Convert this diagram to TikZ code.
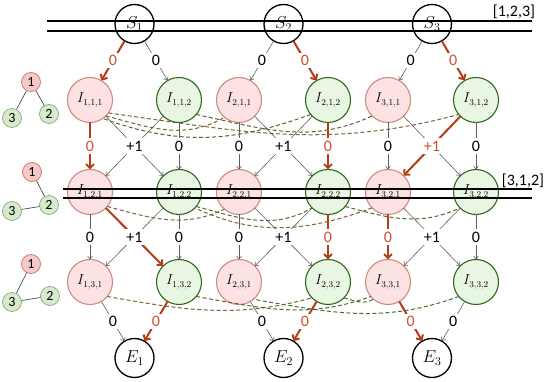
\documentclass[tikz,border=0pt]{standalone}
\usepackage{fontspec}
\newfontfamily\lblfont{Carlito}
\usetikzlibrary{arrows.meta,positioning,calc}
\definecolor{pinkfill}{RGB}{252,226,226}
\definecolor{pinkdraw}{RGB}{205,140,125}
\definecolor{greenfill}{RGB}{234,246,228}
\definecolor{greendraw}{RGB}{45,105,25}
\definecolor{pathred}{RGB}{180,60,25}
\definecolor{pathtext}{RGB}{205,80,50}
\definecolor{edgegray}{RGB}{95,95,95}
\definecolor{dashbrown}{RGB}{125,100,55}
\definecolor{dashgreen}{RGB}{80,105,45}
\definecolor{treepink}{RGB}{246,200,200}
\definecolor{treepinkdraw}{RGB}{190,120,110}
\definecolor{treegreen}{RGB}{214,234,204}
\definecolor{treegreendraw}{RGB}{140,165,130}

\begin{document}
\begin{tikzpicture}[x=1pt,y=1pt,
    endnode/.style={circle,draw=black,line width=1.3pt,minimum size=39pt,
        inner sep=0pt,outer sep=0pt,font=\fontsize{18}{18}\selectfont},
    inode/.style={circle,line width=1.1pt,minimum size=45pt,inner sep=0pt,
        outer sep=0pt,font=\fontsize{13.5}{13.5}\selectfont},
    inodeA/.style={inode,draw=pinkdraw,fill=pinkfill},
    inodeB/.style={inode,draw=greendraw,fill=greenfill},
    tnode/.style={circle,line width=0.7pt,minimum size=19pt,inner sep=0pt,
        font=\lblfont\fontsize{14}{14}\selectfont},
    tnodeA/.style={tnode,draw=treepinkdraw,fill=treepink},
    tnodeB/.style={tnode,draw=treegreendraw,fill=treegreen},
    treeedge/.style={draw=black!80,line width=0.6pt},
    grayarrow/.style={-{Straight Barb[length=3pt,width=5pt]},draw=edgegray,line width=0.6pt},
    redarrow/.style={-{Straight Barb[length=4pt,width=8pt]},draw=pathred,line width=2pt},
    edgelabel/.style={fill=white,inner sep=2.5pt,font=\lblfont\fontsize{16}{16}\selectfont},
    redlabel/.style={edgelabel,text=pathtext},
    dashA/.style={dashed,dash pattern=on 4pt off 2.5pt,draw=dashbrown,line width=1pt},
    dashB/.style={dashed,dash pattern=on 4pt off 2.5pt,draw=dashgreen,line width=1pt},
    barline/.style={draw=black,line width=1.6pt},
    orderlabel/.style={font=\lblfont\fontsize{16}{16}\selectfont,inner sep=0pt}
]
\useasboundingbox (0,0) rectangle (550,-382);
% intermediate nodes, three rows
\node[inodeA] (I111) at (90,-100) {$I_{1,1,1}$};
\node[inodeB,right=44pt of I111] (I112) {$I_{1,1,2}$};
\node[inodeA,right=15pt of I112] (I211) {$I_{2,1,1}$};
\node[inodeB,right=44pt of I211] (I212) {$I_{2,1,2}$};
\node[inodeA,right=15pt of I212] (I311) {$I_{3,1,1}$};
\node[inodeB,right=43pt of I311] (I312) {$I_{3,1,2}$};
\node[inodeA,below=47pt of I111] (I121) {$I_{1,2,1}$};
\node[inodeB,below=47pt of I112] (I122) {$I_{1,2,2}$};
\node[inodeA,below=47pt of I211] (I221) {$I_{2,2,1}$};
\node[inodeB,below=47pt of I212] (I222) {$I_{2,2,2}$};
\node[inodeA,below=47pt of I311] (I321) {$I_{3,2,1}$};
\node[inodeB,below=47pt of I312] (I322) {$I_{3,2,2}$};
\node[inodeA,below=45pt of I121] (I131) {$I_{1,3,1}$};
\node[inodeB,below=45pt of I122] (I132) {$I_{1,3,2}$};
\node[inodeA,below=45pt of I221] (I231) {$I_{2,3,1}$};
\node[inodeB,below=45pt of I222] (I232) {$I_{2,3,2}$};
\node[inodeA,below=45pt of I321] (I331) {$I_{3,3,1}$};
\node[inodeB,below=45pt of I322] (I332) {$I_{3,3,2}$};
% start and end nodes
\node[endnode] (S1) at ($(I111)!.5!(I112)+(0,76)$) {$S_1$};
\node[endnode] (S2) at ($(I211)!.5!(I212)+(0,76)$) {$S_2$};
\node[endnode] (S3) at ($(I311)!.5!(I312)+(0,76)$) {$S_3$};
\node[endnode] (E1) at ($(I131)!.5!(I132)+(0,-76)$) {$E_1$};
\node[endnode] (E2) at ($(I231)!.5!(I232)+(0,-76)$) {$E_2$};
\node[endnode] (E3) at ($(I331)!.5!(I332)+(0,-76)$) {$E_3$};
% small trees on the left
\node[tnodeA] (t11) at (31,-82) {1};
\node[tnodeB] (t13) at (12,-118) {3};
\node[tnodeB] (t12) at (49,-114) {2};
\draw[treeedge] (t11)--(t13);
\draw[treeedge] (t11)--(t12);
\node[tnodeA] (t21) at (32,-172) {1};
\node[tnodeB] (t22) at (49,-205) {2};
\node[tnodeB] (t23) at (12,-211) {3};
\draw[treeedge] (t21)--(t22);
\draw[treeedge] (t22)--(t23);
\node[tnodeA] (t31) at (31,-264) {1};
\node[tnodeB] (t32) at (50,-296) {2};
\node[tnodeB] (t33) at (12,-302) {3};
\draw[treeedge] (t31)--(t33);
\draw[treeedge] (t33)--(t32);
% dashed links within each row
\draw[dashA] (I111.-45) to[out=-15,in=-150] (I211.-130);
\draw[dashA] (I111.-35) to[out=-8,in=-165] (I312.-140);
\draw[dashB] (I112.-40) to[out=-12,in=-155] (I311.-135);
\draw[dashB] (I212.-140) to[out=-160,in=-20] (I111.-55);
\draw[dashA] (I121.-40) to[out=-15,in=-155] (I221.-130);
\draw[dashB] (I122.-40) to[out=-15,in=-150] (I222.-135);
\draw[dashB] (I222.-40) to[out=-15,in=-155] (I322.-135);
\draw[dashA] (I321.-135) to[out=-160,in=-25] (I122.-45);
\draw[dashA] (I131.-40) to[out=-10,in=-165] (I232.-135);
\draw[dashB] (I132.-40) to[out=-10,in=-160] (I331.-140);
\draw[dashB] (I232.-45) to[out=-15,in=-150] (I331.-130);
\draw[dashB] (I332.-140) to[out=-160,in=-10] (I231.-50);
% double bars with orders
\coordinate (bar1L) at (47,-21);
\coordinate (bar1R) at (532,-21);
\draw[barline] (bar1L)--(bar1R);
\draw[barline] ($(bar1L)+(0,-10)$)--($(bar1R)+(0,-10)$);
\node[orderlabel] (order1) at (514,-12) {[1,2,3]};
\coordinate (bar2L) at (63,-189);
\coordinate (bar2R) at (532,-189);
\draw[barline] (bar2L)--(bar2R);
\draw[barline] ($(bar2L)+(0,-9)$)--($(bar2R)+(0,-9)$);
\node[orderlabel] (order2) at (523,-181) {[3,1,2]};
% start arcs
\draw[redarrow] (S1)--node[redlabel] {0}(I111);
\draw[grayarrow] (S1)--node[edgelabel] {0}(I112);
\draw[grayarrow] (S2)--node[edgelabel] {0}(I211);
\draw[redarrow] (S2)--node[redlabel] {0}(I212);
\draw[grayarrow] (S3)--node[edgelabel] {0}(I311);
\draw[redarrow] (S3)--node[redlabel] {0}(I312);
% row 1 to row 2
\draw[redarrow] (I111)--node[redlabel] {0}(I121);
\draw[grayarrow] (I111)--node[edgelabel] {+1}(I122);
\draw[grayarrow] (I112)--node[edgelabel] {+1}(I121);
\draw[grayarrow] (I112)--node[edgelabel] {0}(I122);
\draw[grayarrow] (I211)--node[edgelabel] {0}(I221);
\draw[grayarrow] (I211)--node[edgelabel] {+1}(I222);
\draw[grayarrow] (I212)--node[edgelabel] {+1}(I221);
\draw[redarrow] (I212)--node[redlabel] {0}(I222);
\draw[grayarrow] (I311)--node[edgelabel] {0}(I321);
\draw[grayarrow] (I311)--node[edgelabel] {+1}(I322);
\draw[redarrow] (I312)--node[redlabel] {+1}(I321);
\draw[grayarrow] (I312)--node[edgelabel] {0}(I322);
% row 2 to row 3
\draw[grayarrow] (I121)--node[edgelabel] {0}(I131);
\draw[grayarrow] (I122)--node[edgelabel] {+1}(I131);
\draw[redarrow] (I121)--node[edgelabel] {+1}(I132);
\draw[grayarrow] (I122)--node[edgelabel] {0}(I132);
\draw[grayarrow] (I221)--node[edgelabel] {0}(I231);
\draw[grayarrow] (I221)--node[edgelabel] {+1}(I232);
\draw[grayarrow] (I222)--node[edgelabel] {+1}(I231);
\draw[redarrow] (I222)--node[redlabel] {0}(I232);
\draw[redarrow] (I321)--node[redlabel] {0}(I331);
\draw[grayarrow] (I321)--node[edgelabel] {+1}(I332);
\draw[grayarrow] (I322)--node[edgelabel] {+1}(I331);
\draw[grayarrow] (I322)--node[edgelabel] {0}(I332);
% end arcs
\draw[grayarrow] (I131)--node[edgelabel] {0}(E1);
\draw[redarrow] (I132)--node[redlabel] {0}(E1);
\draw[grayarrow] (I231)--node[edgelabel] {0}(E2);
\draw[redarrow] (I232)--node[redlabel] {0}(E2);
\draw[redarrow] (I331)--node[redlabel] {0}(E3);
\draw[grayarrow] (I332)--node[edgelabel] {0}(E3);
\end{tikzpicture}
\end{document}
